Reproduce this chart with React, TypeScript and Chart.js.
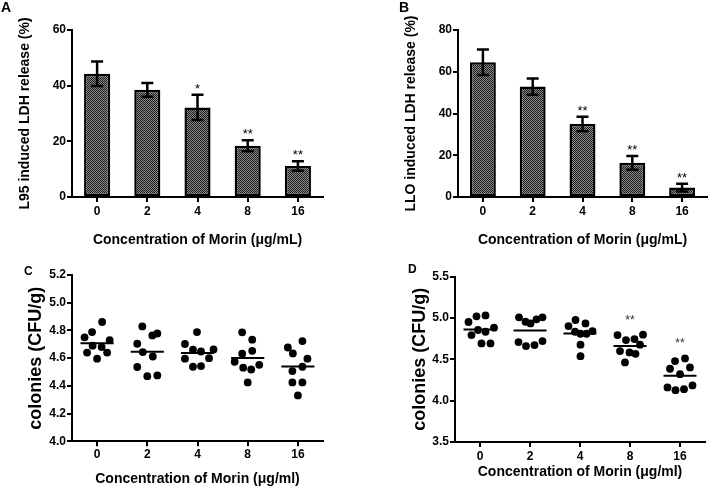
import React, { useEffect, useRef } from "react";
import { Chart, registerables } from "chart.js";

Chart.register(...registerables);

const FONT = "Arial, 'Liberation Sans', Helvetica, sans-serif";

// ---------- data ----------
const doses = ["0", "2", "4", "8", "16"];

// Panel A: L95 induced LDH release (%)
const l95Release = [44.3, 38.5, 32.2, 18.4, 11.1];
const l95Error = [4.4, 2.5, 4.5, 2.0, 1.7];
const l95Stars = ["", "", "*", "**", "**"];

// Panel B: LLO induced LDH release (%)
const lloRelease = [64.5, 52.9, 35.0, 16.4, 4.5];
const lloError = [6.1, 3.9, 3.5, 3.3, 1.9];
const lloStars = ["", "", "**", "**", "**"];

// Panel C: colonies (CFU/g), log values per dose, with horizontal jitter (category units)
const cDose0 = [4.861, 4.788, 4.75, 4.73, 4.69, 4.68, 4.64, 4.64, 4.596];
const cDose2 = [4.829, 4.778, 4.764, 4.704, 4.644, 4.612, 4.536, 4.47, 4.475];
const cDose4 = [4.788, 4.661, 4.648, 4.663, 4.6, 4.538, 4.543, 4.702, 4.596];
const cDose8 = [4.786, 4.733, 4.632, 4.653, 4.574, 4.531, 4.518, 4.552, 4.425];
const cDose16 = [4.677, 4.723, 4.634, 4.596, 4.538, 4.507, 4.425, 4.425, 4.331];
const cJitter0 = [0.1, -0.1, -0.25, 0.25, -0.09, 0.09, -0.2, 0.2, 0];
const cJitter2 = [-0.1, 0.2, 0.1, -0.2, -0.09, 0.11, -0.2, 0, 0.2];
const cJitter4 = [-0.01, -0.09, 0.07, 0.32, 0.23, -0.09, 0.07, -0.25, -0.25];
const cJitter8 = [-0.11, 0.09, -0.11, 0.09, -0.26, -0.09, 0.07, 0.23, 0];
const cJitter16 = [-0.2, 0.09, -0.1, 0.19, 0.09, -0.11, -0.11, 0.09, 0];
const cStars = ["", "", "", "", ""];

// Panel D
const dDose0 = [4.952, 5.02, 5.032, 4.883, 4.794, 4.855, 4.834, 4.693, 4.693];
const dDose2 = [5.008, 4.955, 4.935, 4.984, 5.008, 4.709, 4.661, 4.673, 4.721];
const dDose4 = [4.976, 4.903, 4.935, 4.834, 4.81, 4.81, 4.842, 4.677, 4.539];
const dDose8 = [4.794, 4.733, 4.745, 4.798, 4.677, 4.6, 4.584, 4.567, 4.463];
const dDose16 = [4.479, 4.511, 4.386, 4.402, 4.321, 4.16, 4.127, 4.139, 4.184];
const dJitter0 = [-0.23, -0.07, 0.11, 0.28, -0.17, -0.04, 0.11, 0.03, 0.21];
const dJitter2 = [-0.22, -0.09, 0.01, 0.13, 0.25, -0.23, -0.08, 0.09, 0.25];
const dJitter4 = [-0.09, -0.23, 0.11, -0.1, 0.01, 0.13, 0.25, 0.01, 0.01];
const dJitter8 = [-0.25, -0.08, 0.09, 0.26, 0.2, -0.2, -0.01, 0.11, -0.1];
const dJitter16 = [-0.1, 0.1, -0.2, 0.2, 0, -0.25, -0.09, 0.08, 0.25];
const dStars = ["", "", "", "**", "**"];

// ---------- helpers ----------
const tickFont = { family: FONT, size: 12, weight: "bold" as const };

function axisY(o: {
  min: number; max: number; step: number; width: number; title: string;
  titleSize: number; titlePad: number; decimals: number;
}) {
  return {
    type: "linear",
    min: o.min,
    max: o.max,
    afterFit: (s: any) => { s.width = o.width; },
    ticks: {
      stepSize: o.step,
      padding: 1,
      color: "#000",
      font: tickFont,
      callback: (v: any) => (o.decimals ? Number(v).toFixed(o.decimals) : String(v)),
    },
    grid: { display: true, drawOnChartArea: false, drawTicks: true, tickLength: 5, color: "#000", lineWidth: 2 },
    border: { display: true, color: "#000", width: 2 },
    title: {
      display: true, text: o.title, color: "#000",
      font: { family: FONT, size: o.titleSize, weight: "bold" },
      padding: { top: o.titlePad, bottom: 0 },
    },
  };
}

function axisX(o: { height: number; tickPad: number; titlePad: number; title: string; linear: boolean }) {
  const base: any = {
    afterFit: (s: any) => { s.height = o.height; },
    ticks: { padding: o.tickPad, color: "#000", font: tickFont, maxRotation: 0 },
    grid: { display: true, offset: false, drawOnChartArea: false, drawTicks: true, tickLength: 5, color: "#000", lineWidth: 2 },
    border: { display: true, color: "#000", width: 2 },
    title: {
      display: true, text: o.title, color: "#000",
      font: { family: FONT, size: 14, weight: "bold" },
      padding: { top: 0, bottom: o.titlePad },
    },
  };
  if (o.linear) {
    base.type = "linear";
    base.min = -0.5;
    base.max = doses.length - 0.5;
    base.afterBuildTicks = (s: any) => { s.ticks = doses.map((_, i) => ({ value: i })); };
    base.ticks.callback = (v: any) => doses[Math.round(Number(v))];
  } else {
    base.type = "category";
    base.offset = true;
  }
  return base;
}

function makeHatch(): CanvasPattern | string {
  const c = document.createElement("canvas");
  c.width = 2; c.height = 2;
  const g = c.getContext("2d");
  if (!g) return "#555";
  g.fillStyle = "#8c8c8c"; g.fillRect(0, 0, 2, 2);
  g.fillStyle = "#1a1a1a"; g.fillRect(0, 0, 1, 1); g.fillRect(1, 1, 1, 1);
  return g.createPattern(c, "repeat") || "#555";
}

function errorBarPlugin(means: number[], errs: number[], stars: string[]) {
  return {
    id: "errorBars",
    afterDatasetsDraw(chart: any) {
      const ctx = chart.ctx;
      const y = chart.scales.y;
      const meta = chart.getDatasetMeta(0);
      ctx.save();
      ctx.strokeStyle = "#000";
      ctx.lineWidth = 2.5;
      meta.data.forEach((bar: any, i: number) => {
        const x = bar.x;
        const t = y.getPixelForValue(means[i] + errs[i]);
        const b = y.getPixelForValue(means[i] - errs[i]);
        ctx.beginPath();
        ctx.moveTo(x, t); ctx.lineTo(x, b);
        ctx.moveTo(x - 6, t); ctx.lineTo(x + 6, t);
        ctx.moveTo(x - 6, b); ctx.lineTo(x + 6, b);
        ctx.stroke();
        if (stars[i]) {
          ctx.fillStyle = "#000";
          ctx.font = `13px ${FONT}`;
          ctx.textAlign = "center";
          ctx.textBaseline = "alphabetic";
          ctx.fillText(stars[i], x, t - 2);
        }
      });
      ctx.restore();
    },
  };
}

function starPlugin(groups: number[][], stars: string[]) {
  return {
    id: "groupStars",
    afterDatasetsDraw(chart: any) {
      const ctx = chart.ctx;
      const x = chart.scales.x;
      const y = chart.scales.y;
      ctx.save();
      ctx.fillStyle = "#333";
      ctx.font = `12px ${FONT}`;
      ctx.textAlign = "center";
      ctx.textBaseline = "alphabetic";
      groups.forEach((g, i) => {
        if (!stars[i]) return;
        const top = Math.max(...g);
        ctx.fillText(stars[i], x.getPixelForValue(i), y.getPixelForValue(top) - 11);
      });
      ctx.restore();
    },
  };
}

const mean = (a: number[]) => a.reduce((s, v) => s + v, 0) / a.length;

type Box = { left: number; top: number; width: number; height: number };

function ChartBox({ box, make }: { box: Box; make: (c: HTMLCanvasElement) => Chart }) {
  const ref = useRef<HTMLCanvasElement>(null);
  useEffect(() => {
    const chart = make(ref.current as HTMLCanvasElement);
    return () => chart.destroy();
  }, []);
  return (
    <div style={{ position: "absolute", left: box.left, top: box.top, width: box.width, height: box.height }}>
      <canvas ref={ref} width={box.width} height={box.height} style={{ display: "block", width: box.width, height: box.height }} />
    </div>
  );
}

function barChart(
  canvas: HTMLCanvasElement, means: number[], errs: number[], stars: string[],
  o: { padTop: number; padRight: number; yWidth: number; yMax: number; title: string; titlePad: number }
) {
  return new Chart(canvas, {
    type: "bar",
    data: {
      labels: doses,
      datasets: [{
        data: means,
        backgroundColor: makeHatch() as any,
        borderColor: "#000",
        borderWidth: 2.5,
        borderSkipped: false,
        barPercentage: 0.52,
        categoryPercentage: 1,
      }],
    },
    options: {
      responsive: false,
      animation: false,
      events: [],
      layout: { padding: { top: o.padTop, right: o.padRight, left: 0, bottom: 0 } },
      plugins: { legend: { display: false }, tooltip: { enabled: false } },
      scales: {
        x: axisX({ height: 53, tickPad: 2, titlePad: 1.6, title: "Concentration of Morin (μg/mL)", linear: false }),
        y: axisY({ min: 0, max: o.yMax, step: 20, width: o.yWidth, title: o.title, titleSize: 14, titlePad: o.titlePad, decimals: 0 }),
      } as any,
    },
    plugins: [errorBarPlugin(means, errs, stars)],
  });
}

function dotChart(
  canvas: HTMLCanvasElement, groups: number[][], jitters: number[][], stars: string[],
  o: { padTop: number; padRight: number; yWidth: number; yMin: number; yMax: number; yStep: number; titlePad: number; xHeight: number; xTickPad: number; xTitlePad: number }
) {
  const points: { x: number; y: number }[] = [];
  groups.forEach((g, i) => g.forEach((v, k) => points.push({ x: i + jitters[i][k], y: v })));
  const meanLines = groups.map((g, i) => ({
    data: [{ x: i - 0.33, y: mean(g) }, { x: i + 0.33, y: mean(g) }],
    showLine: true,
    borderColor: "#000",
    borderWidth: 2,
    pointRadius: 0,
  }));
  return new Chart(canvas, {
    type: "scatter",
    data: {
      datasets: [
        ...meanLines,
        { data: points, pointRadius: 3.9, backgroundColor: "#000", borderWidth: 0 },
      ] as any,
    },
    options: {
      responsive: false,
      animation: false,
      events: [],
      layout: { padding: { top: o.padTop, right: o.padRight, left: 0, bottom: 0 } },
      plugins: { legend: { display: false }, tooltip: { enabled: false } },
      scales: {
        x: axisX({ height: o.xHeight, tickPad: o.xTickPad, titlePad: o.xTitlePad, title: "Concentration of Morin (μg/ml)", linear: true }),
        y: axisY({ min: o.yMin, max: o.yMax, step: o.yStep, width: o.yWidth, title: "colonies (CFU/g)", titleSize: 18, titlePad: o.titlePad, decimals: 1 }),
      } as any,
    },
    plugins: [starPlugin(groups, stars)],
  });
}

const letterStyle = (left: number, top: number, size: number): React.CSSProperties => ({
  position: "absolute", left, top, font: `bold ${size}px ${FONT}`, lineHeight: `${size}px`, color: "#000",
});

export default function App() {
  const cGroups = [cDose0, cDose2, cDose4, cDose8, cDose16];
  const cJit = [cJitter0, cJitter2, cJitter4, cJitter8, cJitter16];
  const dGroups = [dDose0, dDose2, dDose4, dDose8, dDose16];
  const dJit = [dJitter0, dJitter2, dJitter4, dJitter8, dJitter16];
  return (
    <div style={{ position: "absolute", left: 0, top: 0, width: 709, height: 488, background: "#fff", overflow: "hidden" }}>
      <ChartBox
        box={{ left: 0, top: 0, width: 354, height: 250 }}
        make={(c) => barChart(c, l95Release, l95Error, l95Stars, { padTop: 30, padRight: 31, yWidth: 72, yMax: 60, title: "L95 induced LDH release (%)", titlePad: 16.6 })}
      />
      <ChartBox
        box={{ left: 354, top: 0, width: 355, height: 250 }}
        make={(c) => barChart(c, lloRelease, lloError, lloStars, { padTop: 30, padRight: 2, yWidth: 104, yMax: 80, title: "LLO induced LDH release (%)", titlePad: 48.6 })}
      />
      <ChartBox
        box={{ left: 0, top: 250, width: 354, height: 238 }}
        make={(c) => dotChart(c, cGroups, cJit, cStars, { padTop: 25, padRight: 31, yWidth: 72, yMin: 4.0, yMax: 5.2, yStep: 0.2, titlePad: 25.2, xHeight: 46.7, xTickPad: 1.5, xTitlePad: 0.6 })}
      />
      <ChartBox
        box={{ left: 354, top: 250, width: 355, height: 238 }}
        make={(c) => dotChart(c, dGroups, dJit, dStars, { padTop: 26.7, padRight: 3, yWidth: 101, yMin: 3.5, yMax: 5.5, yStep: 0.5, titlePad: 55.7, xHeight: 46, xTickPad: 2.5, xTitlePad: 7.2 })}
      />
      <div style={letterStyle(1, 0, 14)}>A</div>
      <div style={letterStyle(399, 0, 14)}>B</div>
      <div style={letterStyle(24, 265, 12)}>C</div>
      <div style={letterStyle(408, 263, 12)}>D</div>
    </div>
  );
}
